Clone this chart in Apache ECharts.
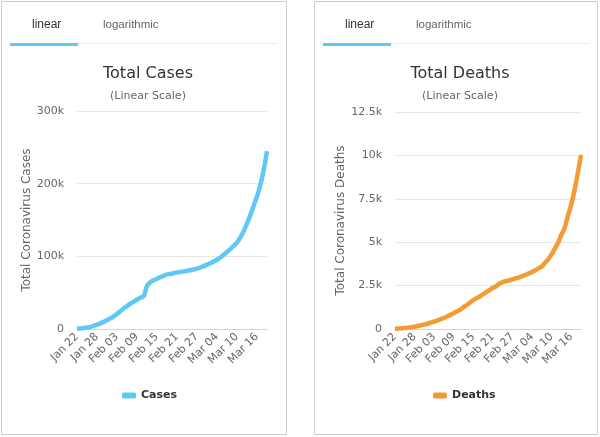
<!DOCTYPE html>
<html><head><meta charset="utf-8">
<script src="https://cdn.jsdelivr.net/npm/echarts@6/dist/echarts.min.js"></script>
<style>html,body{margin:0;padding:0;background:#fff}#c{width:600px;height:437px}</style>
</head><body><div id="c"></div>
<script>
const dates = ["Jan 22","Jan 23","Jan 24","Jan 25","Jan 26","Jan 27","Jan 28","Jan 29","Jan 30","Jan 31",
"Feb 01","Feb 02","Feb 03","Feb 04","Feb 05","Feb 06","Feb 07","Feb 08","Feb 09","Feb 10","Feb 11","Feb 12","Feb 13","Feb 14","Feb 15","Feb 16","Feb 17","Feb 18","Feb 19","Feb 20","Feb 21","Feb 22","Feb 23","Feb 24","Feb 25","Feb 26","Feb 27","Feb 28","Feb 29",
"Mar 01","Mar 02","Mar 03","Mar 04","Mar 05","Mar 06","Mar 07","Mar 08","Mar 09","Mar 10","Mar 11","Mar 12","Mar 13","Mar 14","Mar 15","Mar 16","Mar 17","Mar 18","Mar 19"];
const cases = [580,845,1317,2015,2800,4581,6058,7813,9823,11950,
14553,17391,20630,24545,28266,31439,34876,37552,40553,43099,45134,59287,64438,67100,69197,71329,73332,75184,75700,76677,77673,78651,79205,80087,80828,81820,83112,84615,86604,
88585,90443,93016,95314,98425,102050,106099,109991,114381,118948,126214,134576,145483,156653,169593,182490,198238,218822,244933];
const deaths = [17,25,41,56,80,106,132,170,213,259,
304,362,426,492,565,638,724,813,910,1018,1115,1261,1383,1526,1669,1775,1873,2009,2126,2247,2360,2460,2618,2699,2763,2800,2858,2923,2977,
3050,3117,3202,3285,3387,3494,3599,3827,4025,4296,4628,4981,5428,5833,6520,7162,7979,8961,10031];
const casesTicks = {max:300000, interval:100000};
const deathsTicks = {max:12500, interval:2500};

const FONT = '"Lucida Grande","DejaVu Sans",sans-serif';
const TABFONT = '"Liberation Sans",Arial,sans-serif';
const blue = '#5fc8f7', orange = '#f39c35';
const kfmt = v => v === 0 ? '0' : (v/1000) + 'k';

function xAxis(gi){
  return {type:'category', gridIndex:gi, data:dates, boundaryGap:false,
    axisLine:{lineStyle:{color:'#ccd6eb'}}, axisTick:{show:false},
    axisLabel:{interval:5, rotate:45, color:'#666', fontSize:11, fontFamily:FONT, margin:6}};
}
function yAxis(gi, name, t, gap){
  return {type:'value', gridIndex:gi, min:0, max:t.max, interval:t.interval,
    name:name, nameLocation:'middle', nameGap:gap, nameTextStyle:{color:'#666', fontSize:12, fontFamily:FONT},
    axisLabel:{formatter:kfmt, color:'#666', fontSize:11, fontFamily:FONT, margin:13},
    splitLine:{lineStyle:{color:'#e6e6e6'}}, axisLine:{show:false}, axisTick:{show:false}};
}
function tabs(x0, panelRight){
  return [
    {type:'text', left:x0+22, top:19, style:{text:'linear', fill:'#333', font:'12px '+TABFONT}},
    {type:'text', left:x0+93, top:19, style:{text:'logarithmic', fill:'#666', font:'11.5px '+TABFONT}},
    {type:'rect', shape:{x:x0+68, y:43, width:panelRight-(x0+68), height:1}, style:{fill:'#eeeeee'}},
    {type:'rect', shape:{x:x0, y:43, width:68, height:3}, style:{fill:blue}}
  ];
}
const chart = echarts.init(document.getElementById('c'));
chart.setOption({
  animation:false,
  graphic:[
    {type:'rect', shape:{x:1.5, y:1.5, width:285, height:433}, style:{fill:'none', stroke:'#cccccc', lineWidth:1}},
    {type:'rect', shape:{x:314.5, y:1.5, width:283, height:433}, style:{fill:'none', stroke:'#cccccc', lineWidth:1}},
    ...tabs(10, 277), ...tabs(323, 590)
  ],
  title:[
    {text:'Total Cases', subtext:'(Linear Scale)', left:143, top:61, textAlign:'center', itemGap:9,
     textStyle:{fontFamily:FONT, fontSize:16, fontWeight:'normal', color:'#333'},
     subtextStyle:{fontFamily:FONT, fontSize:11, color:'#666'}},
    {text:'Total Deaths', subtext:'(Linear Scale)', left:455, top:61, textAlign:'center', itemGap:9,
     textStyle:{fontFamily:FONT, fontSize:16, fontWeight:'normal', color:'#333'},
     subtextStyle:{fontFamily:FONT, fontSize:11, color:'#666'}}
  ],
  legend:[
    {data:['Cases'], left:117, top:385, icon:'roundRect', itemWidth:14, itemHeight:6, itemGap:6,
     textStyle:{fontFamily:FONT, fontSize:11, fontWeight:'bold', color:'#333'}},
    {data:['Deaths'], left:428, top:385, icon:'roundRect', itemWidth:14, itemHeight:6, itemGap:6,
     textStyle:{fontFamily:FONT, fontSize:11, fontWeight:'bold', color:'#333'}}
  ],
  grid:[
    {left:77, right:333, top:111, bottom:108},
    {left:395, right:19, top:112, bottom:108}
  ],
  xAxis:[xAxis(0), xAxis(1)],
  yAxis:[yAxis(0,'Total Coronavirus Cases',casesTicks,44), yAxis(1,'Total Coronavirus Deaths',deathsTicks,47)],
  series:[
    {name:'Cases', type:'line', xAxisIndex:0, yAxisIndex:0, data:cases, smooth:0.3, showSymbol:false,
     lineStyle:{color:blue, width:4.5}, itemStyle:{color:blue}},
    {name:'Deaths', type:'line', xAxisIndex:1, yAxisIndex:1, data:deaths, smooth:0.3, showSymbol:false,
     lineStyle:{color:orange, width:4.5}, itemStyle:{color:orange}}
  ]
});
</script></body></html>
